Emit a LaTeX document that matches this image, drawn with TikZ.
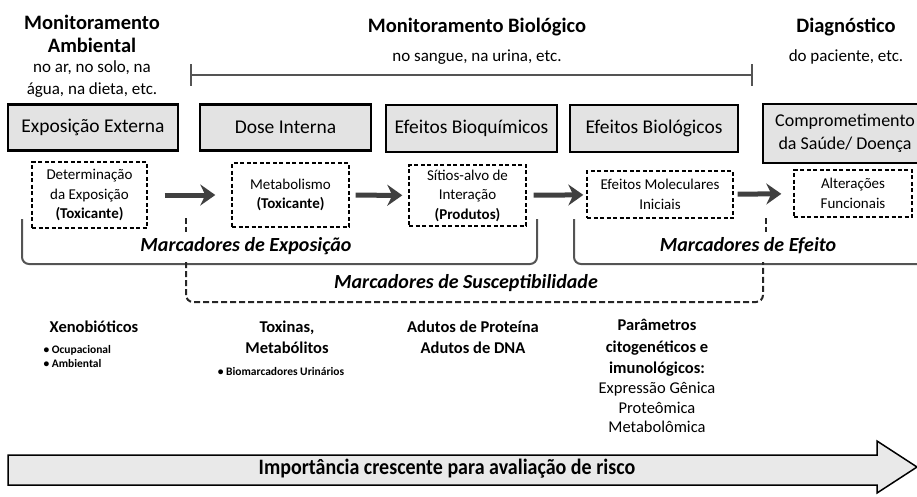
\documentclass[tikz,border=0pt]{standalone}
\usepackage{fontspec}
\setmainfont{Carlito}
\usetikzlibrary{arrows.meta,positioning}
\definecolor{boxgray}{gray}{0.89}
\definecolor{linegray}{gray}{0.33}
\definecolor{arrowgray}{gray}{0.25}
\newcommand{\titlefont}{\fontsize{20.5}{23}\selectfont\bfseries}
\newcommand{\subfont}{\fontsize{17}{22}\selectfont}
\newcommand{\stagefont}{\fontsize{19.5}{24}\selectfont}
\newcommand{\markfont}{\fontsize{15}{19.5}\selectfont}
\newcommand{\labelfont}{\fontsize{20}{24}\selectfont\bfseries\itshape}
\newcommand{\listfont}{\fontsize{16.5}{21.5}\selectfont}
\newcommand{\bulletfont}{\fontsize{11.5}{14}\selectfont\bfseries}
\tikzset{
  stage/.style={draw=black, line width=2.5pt, fill=boxgray, font=\stagefont,
    align=center, inner sep=0pt},
  marker/.style={draw=black, line width=1.4pt, dash pattern=on 4pt off 2.5pt,
    fill=white, font=\markfont, align=center, inner sep=0pt},
  flow/.style={draw=arrowgray, line width=5pt,
    -{Stealth[length=15pt,width=21pt,inset=5pt]}},
  bracket/.style={draw=linegray, line width=2pt, rounded corners=7pt},
  suscept/.style={draw=black!85, line width=2pt, dash pattern=on 6pt off 3pt,
    rounded corners=7pt},
  group/.style={font=\labelfont, inner sep=0pt}
}

\begin{document}
\begin{tikzpicture}[x=1pt, y=-1pt]
  \useasboundingbox (0,0) rectangle (917,496);
  \clip (0,0) rectangle (917,496);

  % headings
  \node[font=\titlefont, align=center] (ambtitle) at (92,34) {Monitoramento\\Ambiental};
  \node[font=\subfont, align=center] (ambsub) at (92,79) {no ar, no solo, na\\água, na dieta, etc.};
  \node[font=\titlefont] (biotitle) at (477,27) {Monitoramento Biológico};
  \node[font=\subfont] (biosub) at (477,57) {no sangue, na urina, etc.};
  \node[font=\titlefont] (diagtitle) at (846,27) {Diagnóstico};
  \node[font=\subfont] (diagsub) at (846,57) {do paciente, etc.};

  % range of biological monitoring
  \draw[linegray, line width=2pt] (191,75) -- (752,75);
  \draw[linegray, line width=2pt] (191,64) -- (191,86);
  \draw[linegray, line width=2pt] (752,64) -- (752,86);

  % stages
  \node[stage, minimum width=170pt, minimum height=46pt] (ext) at (93,127.5) {Exposição Externa};
  \node[stage, minimum width=171pt, minimum height=46pt] (dose) at (285.5,127.5) {Dose Interna};
  \node[stage, minimum width=171pt, minimum height=47pt] (bioq) at (471.5,128.5) {Efeitos Bioquímicos};
  \node[stage, minimum width=168pt, minimum height=47pt] (biol) at (654,128.5) {Efeitos Biológicos};
  \node[stage, minimum width=164pt, minimum height=59pt, font=\fontsize{18}{23}\selectfont]
    (saude) at (845,133.5) {Comprometimento\\da Saúde/ Doença};

  % markers
  \node[marker, minimum width=115pt, minimum height=66pt] (expo) at (89.5,195)
    {Determinação\\da Exposição\\\textbf{(Toxicante)}};
  \node[marker, minimum width=117pt, minimum height=64pt] (metab) at (290.5,195)
    {Metabolismo\\\textbf{(Toxicante)}};
  \node[marker, minimum width=117pt, minimum height=61pt] (sitios) at (467.5,195.5)
    {Sítios-alvo de\\Interação\\\textbf{(Produtos)}};
  \node[marker, minimum width=146pt, minimum height=47pt] (molec) at (660,194.5)
    {Efeitos Moleculares\\Iniciais};
  \node[marker, minimum width=118pt, minimum height=47pt] (funcao) at (853,193.5)
    {Alterações\\Funcionais};

  \draw[flow, shorten <=17pt, shorten >=16pt] (expo) -- (metab);
  \draw[flow, shorten <=6pt, shorten >=6pt] (metab) -- (sitios);
  \draw[flow, shorten <=7pt, shorten >=3pt] (sitios) -- (molec);
  \draw[flow, shorten <=4pt, shorten >=12pt] (molec) -- (funcao);

  % marker groups
  \draw[bracket] (22,219) -- (22,264) -- (537,264) -- (537,219);
  \draw[bracket] (574,219) -- (574,264) -- (930,264);
  \draw[suscept] (186,218) -- (186,232);
  \draw[suscept] (766,218) -- (766,232);
  \draw[suscept] (186,262) -- (186,302) -- (763,302) -- (763,262);

  \node[group] (grpexpo) at (246,246) {Marcadores de Exposição};
  \node[group] (grpsusc) at (466,283) {Marcadores de Susceptibilidade};
  \node[group] (grpefeito) at (748,246) {Marcadores de Efeito};

  % examples
  \node[font=\listfont\bfseries] (xeno) at (94,327) {Xenobióticos};
  \node[font=\bulletfont, align=left, anchor=west] (xenolist) at (40,356)
    {\textbullet\ Ocupacional\\\textbullet\ Ambiental};
  \node[font=\listfont\bfseries, align=center] (toxinas) at (287,337.5) {Toxinas,\\Metabólitos};
  \node[font=\bulletfont] (urina) at (281,371) {\textbullet\ Biomarcadores Urinários};
  \node[font=\listfont\bfseries, align=center] (adutos) at (473,337.5)
    {Adutos de Proteína\\Adutos de DNA};
  \node[font=\listfont\bfseries, align=center] (param) at (657,348)
    {Parâmetros\\citogenéticos e\\imunológicos:};
  \node[font=\fontsize{16.5}{19.5}\selectfont, align=center] (omica) at (657,407.5)
    {Expressão Gênica\\Proteômica\\Metabolômica};

  % risk arrow
  \draw[black, line width=1.5pt, fill=boxgray!80] (8,455) -- (877,455) -- (877,441)
    -- (917,467) -- (877,493) -- (877,485) -- (8,485) -- cycle;
  \node[font=\fontsize{20}{24}\selectfont\bfseries, yscale=1.1] (risco) at (447,469)
    {Importância crescente para avaliação de risco};
\end{tikzpicture}
\end{document}
